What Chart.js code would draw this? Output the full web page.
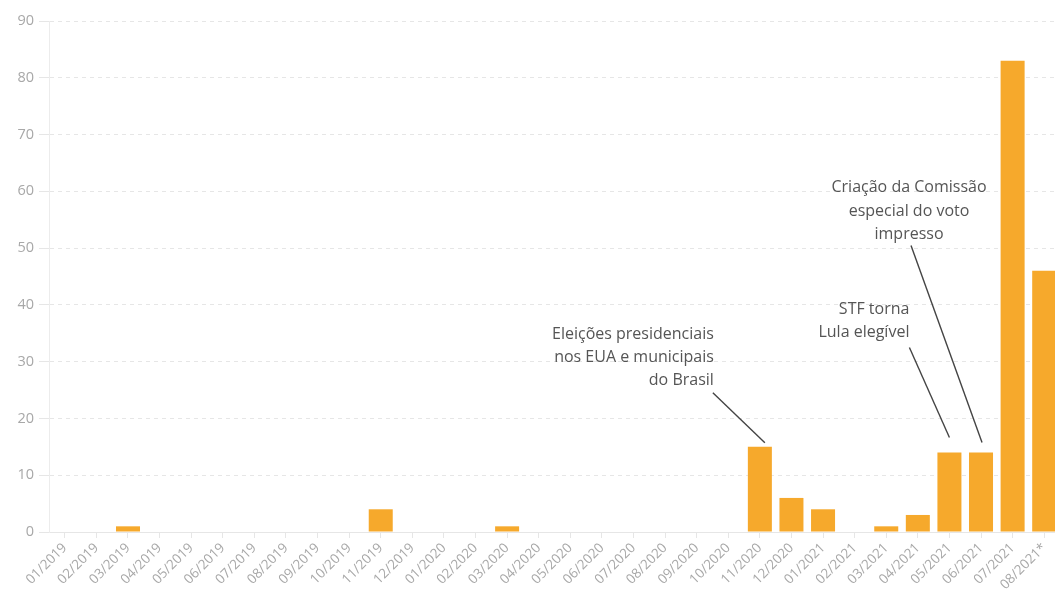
<!DOCTYPE html>
<html>
<head>
<meta charset="utf-8">
<script src="https://cdn.jsdelivr.net/npm/chart.js@4"></script>
<style>
  html, body { margin: 0; padding: 0; background: #fff; overflow: hidden; }
  #wrap { width: 1062px; height: 601px; position: relative; }
</style>
</head>
<body>
<div id="wrap"><canvas id="chart"></canvas></div>
<script>
/* ---- data ---- */
const MONTHS = [
  "01/2019", "02/2019", "03/2019", "04/2019", "05/2019", "06/2019", "07/2019", "08/2019",
  "09/2019", "10/2019", "11/2019", "12/2019", "01/2020", "02/2020", "03/2020", "04/2020",
  "05/2020", "06/2020", "07/2020", "08/2020", "09/2020", "10/2020", "11/2020", "12/2020",
  "01/2021", "02/2021", "03/2021", "04/2021", "05/2021", "06/2021", "07/2021", "08/2021*",
];
const COUNTS = [
  0, 0, 1, 0, 0, 0, 0, 0,
  0, 0, 4, 0, 0, 0, 1, 0,
  0, 0, 0, 0, 0, 0, 15, 6,
  4, 0, 1, 3, 14, 14, 83, 46,
];
const Y_TICKS = [0, 10, 20, 30, 40, 50, 60, 70, 80, 90];

const NOTE_MONTHS = ["11/2020", "05/2021", "06/2021"];
const NOTE_TEXTS = [
  ["Eleições presidenciais", "nos EUA e municipais", "do Brasil"],
  ["STF torna", "Lula elegível"],
  ["Criação da Comissão", "especial do voto", "impresso"],
];

/* ---- styles ---- */
const ORANGE = "#f6a92c";
const GRID = "#e6e6e6";
const TICK = "#a8a8a8";
const NOTE = "#555";
const FONT = "'Open Sans', sans-serif";
// pixel offsets of each note, relative to the top of its bar
const NOTE_STYLE = [
  { align: "right", tx: -46, ty: -112, lh: 23, from: [-47, -54], to: [5, -4] },
  { align: "right", tx: -40, ty: -143, lh: 23, from: [-40, -105], to: [0, -15] },
  { align: "center", tx: -72, ty: -265, lh: 23.5, from: [-70, -207], to: [1, -10] },
];

const notesPlugin = {
  id: "notes",
  afterDatasetsDraw(chart) {
    const ctx = chart.ctx;
    const meta = chart.getDatasetMeta(0);
    ctx.save();
    NOTE_MONTHS.forEach((m, k) => {
      const bar = meta.data[MONTHS.indexOf(m)];
      const s = NOTE_STYLE[k];
      const x = bar.x, y = bar.y;
      ctx.strokeStyle = "#444";
      ctx.lineWidth = 1.4;
      ctx.beginPath();
      ctx.moveTo(x + s.from[0], y + s.from[1]);
      ctx.lineTo(x + s.to[0], y + s.to[1]);
      ctx.stroke();
      ctx.fillStyle = NOTE;
      ctx.font = "16px " + FONT;
      ctx.textAlign = s.align;
      ctx.textBaseline = "middle";
      NOTE_TEXTS[k].forEach((line, j) => ctx.fillText(line, x + s.tx, y + s.ty + j * s.lh));
    });
    ctx.restore();
  },
};

new Chart(document.getElementById("chart"), {
  type: "bar",
  data: {
    labels: MONTHS,
    datasets: [{ data: COUNTS, backgroundColor: ORANGE, categoryPercentage: 1, barPercentage: 0.76 }],
  },
  options: {
    responsive: true, maintainAspectRatio: false, animation: false,
    layout: { padding: { top: 21, right: 2, left: 0, bottom: 0 } },
    plugins: { legend: { display: false }, tooltip: { enabled: false } },
    scales: {
      x: {
        grid: { offset: false, drawOnChartArea: false, drawTicks: true, tickLength: 6, color: GRID },
        border: { display: true, color: GRID, width: 1 },
        ticks: { color: TICK, font: { family: FONT, size: 13.5 }, maxRotation: 45, minRotation: 45, autoSkip: false, padding: 2 },
        afterFit: (s) => { s.height = 69; },
      },
      y: {
        min: 0, max: 90,
        afterBuildTicks: (s) => { s.ticks = Y_TICKS.map((v) => ({ value: v })); },
        grid: { color: GRID, tickLength: 10, lineWidth: 1 },
        border: { display: true, color: "#ececec", dash: [4, 4] },
        ticks: { color: TICK, font: { family: FONT, size: 14.5 }, padding: 5 },
        afterFit: (s) => { s.width = 49; },
      },
    },
  },
  plugins: [notesPlugin],
});
</script>
</body>
</html>
